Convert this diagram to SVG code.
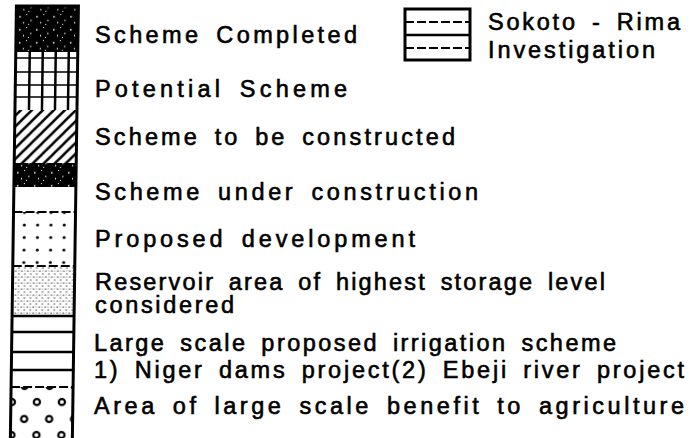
<svg xmlns="http://www.w3.org/2000/svg" width="690" height="438" viewBox="0 0 690 438">
<style>
  .lbl { font-family: "Liberation Sans", Arial, sans-serif; font-size: 23.5px; fill: #000; stroke: #000; stroke-width: 0.6; word-spacing: 5px; }
  .box { fill: none; stroke: #000; stroke-width: 3; }
  .ln { stroke: #000; stroke-width: 2.5; fill: none; }
  .thin { stroke: #000; stroke-width: 1.6; fill: none; }
  .dash { stroke: #000; stroke-width: 2.2; stroke-dasharray: 9 3; fill: none; }
</style>
<defs>
  <pattern id="speckle" width="17" height="13" patternUnits="userSpaceOnUse">
    <rect width="17" height="13" fill="#000"/>
    <rect x="2" y="3" width="1.5" height="1.5" fill="#fff"/>
    <rect x="9" y="1" width="1" height="1" fill="#fff"/>
    <rect x="13" y="7" width="1.5" height="1" fill="#fff"/>
    <rect x="6" y="9" width="1" height="1.5" fill="#fff"/>
    <rect x="11" y="11" width="1" height="1" fill="#fff"/>
  </pattern>
  <pattern id="hatch" width="11" height="11" patternUnits="userSpaceOnUse">
    <path d="M-2,13 L13,-2 M-2,2 L2,-2 M9,13 L13,9" stroke="#000" stroke-width="2.5"/>
  </pattern>
  <pattern id="dots" x="21" y="219" width="13.3" height="12.5" patternUnits="userSpaceOnUse">
    <circle cx="6" cy="6" r="1.5" fill="#000"/>
  </pattern>
  <pattern id="stipple" width="6" height="6" patternUnits="userSpaceOnUse">
    <rect x="0.5" y="0.5" width="1.2" height="1.2" fill="#222"/>
    <rect x="3.5" y="3.5" width="1.2" height="1.2" fill="#222"/>
    <rect x="3.5" y="0.5" width="0.9" height="0.9" fill="#555"/>
  </pattern>
  <pattern id="circ" x="17" y="394" width="25" height="33" patternUnits="userSpaceOnUse">
    <circle cx="0" cy="8" r="3.1" fill="none" stroke="#000" stroke-width="2.2"/>
    <circle cx="25" cy="8" r="3.1" fill="none" stroke="#000" stroke-width="2.2"/>
    <circle cx="12.5" cy="25" r="3.1" fill="none" stroke="#000" stroke-width="2.2"/>
  </pattern>
</defs>

<g id="connectors"/>

<g id="legend-column" transform="matrix(1 0 -0.014 1 0.5 0)">
  <g id="swatch-completed">
    <rect x="16" y="6" width="62" height="46" fill="url(#speckle)"/>
  </g>
  <g id="swatch-potential">
    <rect x="16" y="52" width="62" height="58" fill="#fff"/>
    <path class="ln" d="M30,52 V110 M43,52 V110 M56,52 V110 M69,52 V110"/>
    <path class="thin" d="M16,58 H78 M16,72 H78 M16,85 H78 M16,97 H78"/>
  </g>
  <g id="swatch-to-be-constructed">
    <rect x="16" y="110" width="62" height="53" fill="url(#hatch)"/>
  </g>
  <g id="swatch-under-construction">
    <rect x="16" y="163" width="62" height="24" fill="url(#speckle)"/>
  </g>
  <g id="swatch-white">
    <rect x="16" y="187" width="62" height="25" fill="#fff"/>
  </g>
  <g id="swatch-proposed">
    <rect x="16" y="212" width="62" height="54" fill="url(#dots)"/>
    <path class="dash" d="M16,212 H78 M16,266 H78"/>
  </g>
  <g id="swatch-reservoir">
    <rect x="16" y="266" width="62" height="50" fill="url(#stipple)"/>
    <path class="ln" d="M16,316 H78"/>
  </g>
  <g id="swatch-bands">
    <path class="ln" d="M16,332 H78 M16,352 H78 M16,370 H78"/>
    <path class="dash" d="M16,387 H78"/>
  </g>
  <g id="swatch-benefit">
    <rect x="16" y="387" width="62" height="51" fill="url(#circ)"/>
  </g>
  <rect class="box" x="16" y="6" width="62" height="434"/>
</g>

<g id="swatch-sokoto">
  <rect class="box" x="405" y="9" width="65" height="51" fill="#fff"/>
  <path class="dash" d="M405,22 H470 M405,48 H470"/>
  <path class="ln" d="M405,35 H470"/>
</g>

<g id="labels">
  <text class="lbl" x="95" y="43" textLength="262" lengthAdjust="spacing">Scheme Completed</text>
  <text class="lbl" x="95" y="97" textLength="252" lengthAdjust="spacing">Potential Scheme</text>
  <text class="lbl" x="95" y="145" textLength="360" lengthAdjust="spacing">Scheme to be constructed</text>
  <text class="lbl" x="95" y="200" textLength="383" lengthAdjust="spacing">Scheme under construction</text>
  <text class="lbl" x="95" y="247" textLength="320" lengthAdjust="spacing">Proposed development</text>
  <text class="lbl" x="95" y="290" textLength="510" lengthAdjust="spacing">Reservoir area of highest storage level</text>
  <text class="lbl" x="95" y="313" textLength="139" lengthAdjust="spacing">considered</text>
  <text class="lbl" x="94" y="351" textLength="522" lengthAdjust="spacing">Large scale proposed irrigation scheme</text>
  <text class="lbl" x="94" y="378" textLength="590" lengthAdjust="spacing">1) Niger dams project(2) Ebeji river project</text>
  <text class="lbl" x="94" y="414" textLength="590" lengthAdjust="spacing">Area of large scale benefit to agriculture</text>
  <text class="lbl" x="488" y="30" textLength="192" lengthAdjust="spacing">Sokoto - Rima</text>
  <text class="lbl" x="488" y="58" textLength="167" lengthAdjust="spacing">Investigation</text>
</g>
</svg>
